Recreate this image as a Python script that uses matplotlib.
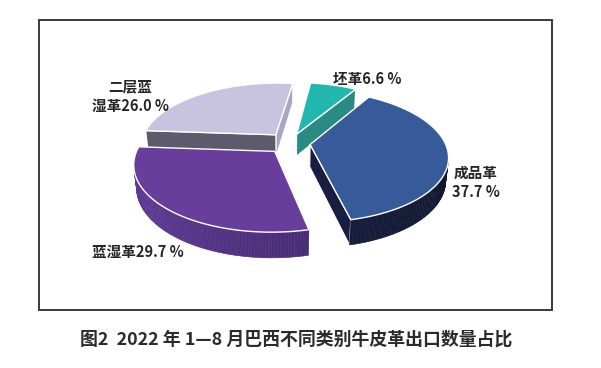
import numpy as np
import matplotlib.pyplot as plt
from matplotlib.patches import Polygon, Rectangle

plt.rcParams['font.family'] = ['Noto Sans CJK SC', 'DejaVu Sans']

# data (counter-clockwise order, starting at the lower right)
categories = ['成品革', '坯革', '二层蓝湿革', '蓝湿革']
shares = [37.7, 6.6, 26.0, 29.7]
label_text = ['成品革\n37.7 %', '坯革6.6 %', '二层蓝\n湿革26.0 %', '蓝湿革29.7 %']
caption = '图2  2022 年 1—8 月巴西不同类别牛皮革出口数量占比'

# styles
top_colors = ['#365b98', '#21b7ae', '#c8c4e0', '#683d9c']
wall_colors = ['#1c244c', '#26807a', '#8c88a8', '#5f3a97']
start_face = ['#171e42', '#2a8a84', '#a9a5c3', '#3b2161']
end_face = ['#171e42', '#2a8a84', '#5c5a6b', '#3b2161']
explode = [0.15, 0.15, 0.17, 0.17]
label_pos = [(476, 182), (367, 79), (130, 96), (138, 252)]
rotation = -4  # degrees

# simple perspective camera, pixel coords
elev = np.radians(28)
se, ce = np.sin(elev), np.cos(elev)
L, F = 5.07, 685
cx, cy = 290, 143
h = 0.19
cam = np.array([0, -L * ce, L * se])


def proj(p):
    x, y, z = p
    zc = L + y * ce - z * se
    yc = y * se + z * ce
    return (cx + F * x / zc, cy - F * yc / zc)


def visible(p, n):
    return np.dot(cam - np.array(p), n) > 0


def shade(c, f):
    rgb = np.array(plt.matplotlib.colors.to_rgb(c))
    return np.clip(rgb * f, 0, 1)


fig = plt.figure(figsize=(6.01, 3.68), dpi=100)
ax = fig.add_axes([0, 0, 1, 1])
ax.set_xlim(0, 601)
ax.set_ylim(368, 0)
ax.axis('off')

ax.add_patch(Rectangle((39, 20), 513, 290, fill=False, ec='#3a3a3a', lw=1.4))

total = sum(shares)
theta = 180 + rotation - 360 * sum(shares[:3]) / total
slices = []
for i, s in enumerate(shares):
    t1 = theta
    t2 = theta + 360 * s / total
    theta = t2
    mid = np.radians((t1 + t2) / 2)
    o = np.array([explode[i] * np.cos(mid), explode[i] * np.sin(mid), 0])
    slices.append((i, t1, t2, o))

# far slices first
slices.sort(key=lambda s: -(s[3][1] + 0.5 * np.sin(np.radians((s[1] + s[2]) / 2))))

for i, t1, t2, o in slices:
    a = np.radians(np.linspace(t1, t2, int(abs(t2 - t1)) + 2))
    rim = [o + np.array([np.cos(t), np.sin(t), 0]) for t in a]
    down = np.array([0, 0, -h])

    # radial faces
    r1, r2 = np.radians(t1), np.radians(t2)
    n1 = np.array([np.sin(r1), -np.cos(r1), 0])
    n2 = np.array([-np.sin(r2), np.cos(r2), 0])
    for p_end, n, col in [(rim[0], n1, start_face[i]), (rim[-1], n2, end_face[i])]:
        if visible((o + p_end) / 2, n):
            pts = [proj(o), proj(p_end), proj(p_end + down), proj(o + down)]
            ax.add_patch(Polygon(pts, closed=True, fc=col, ec='white', lw=0.8))

    # outer wall
    for k in range(len(a) - 1):
        am = (a[k] + a[k + 1]) / 2
        n = np.array([np.cos(am), np.sin(am), 0])
        pm = o + n
        if not visible(pm, n):
            continue
        f = 0.62 + 0.38 * (1 - np.cos(am)) / 2
        col = shade(wall_colors[i], f)
        pts = [proj(rim[k]), proj(rim[k + 1]), proj(rim[k + 1] + down), proj(rim[k] + down)]
        ax.add_patch(Polygon(pts, closed=True, fc=col, ec=col, lw=0.4))

    # top
    pts = [proj(o)] + [proj(p) for p in rim]
    ax.add_patch(Polygon(pts, closed=True, fc=top_colors[i], ec='white', lw=1.0))

for txt, (x, y) in zip(label_text, label_pos):
    ax.text(x, y, txt, ha='center', va='center', fontsize=10.5, fontweight='bold',
            color='#262626', linespacing=1.25)

ax.text(296, 340, caption, ha='center', va='center', fontsize=12.9,
        fontweight='bold', color='#2b2b2b')

fig.savefig('out.png', dpi=100)
